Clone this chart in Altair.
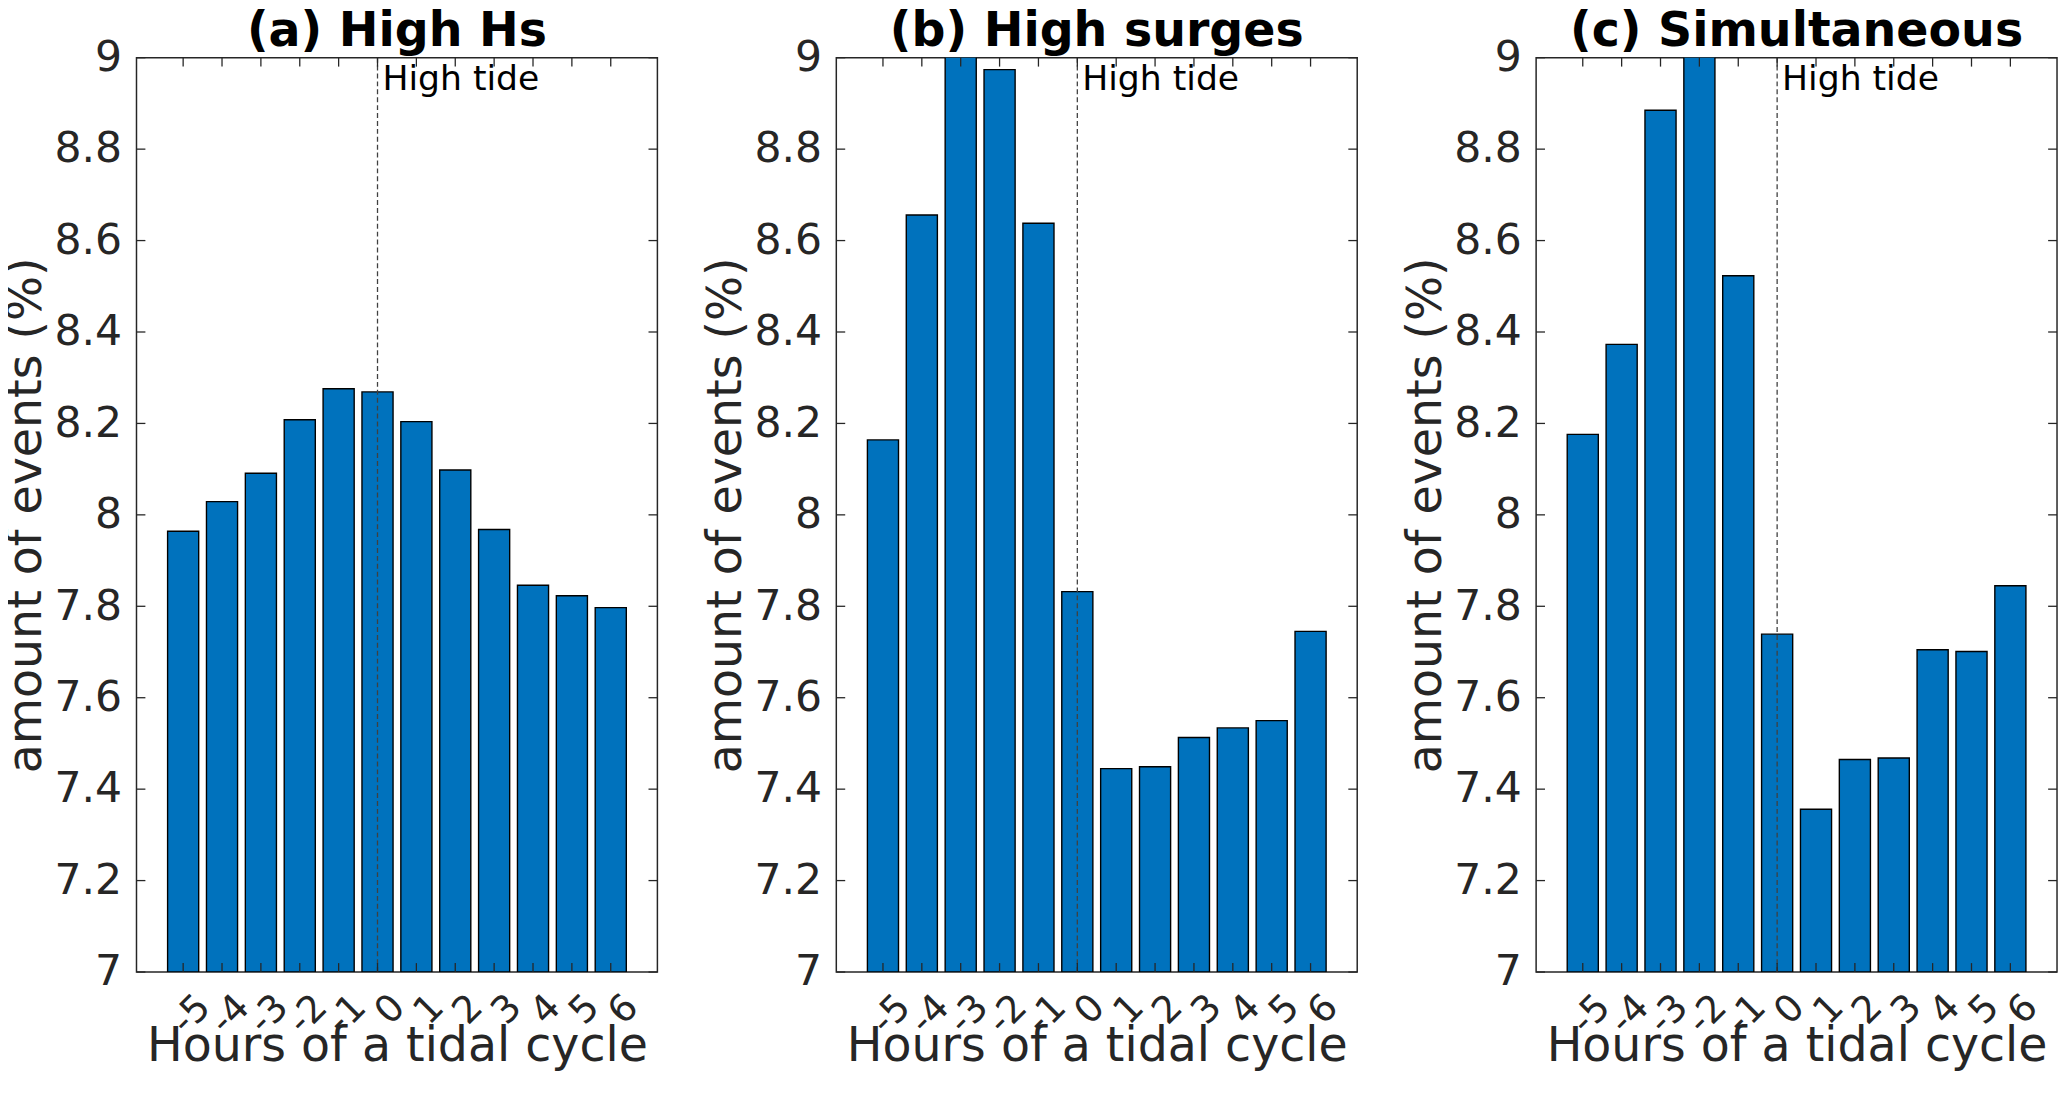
import altair as alt
import pandas as pd

# ---------------- data ----------------
HOURS = [-5, -4, -3, -2, -1, 0, 1, 2, 3, 4, 5, 6]
HIGH_HS = [7.964, 8.029, 8.091, 8.208, 8.276, 8.269, 8.204, 8.098, 7.968, 7.846, 7.823, 7.797]
HIGH_SURGES = [8.164, 8.656, 9.05, 8.974, 8.638, 7.832, 7.445, 7.449, 7.513, 7.534, 7.550, 7.745]
SIMULTANEOUS = [8.176, 8.373, 8.885, 9.05, 8.523, 7.739, 7.356, 7.465, 7.468, 7.705, 7.701, 7.845]
TITLES = ["(a) High Hs", "(b) High surges", "(c) Simultaneous"]
Y_TICKS = [7, 7.2, 7.4, 7.6, 7.8, 8, 8.2, 8.4, 8.6, 8.8, 9]
HIGH_TIDE = [0]
HIGH_TIDE_LABEL = ["High tide"]
X_TITLE = "Hours of a tidal cycle"
Y_TITLE = "amount of events (%)"

# ---------------- style ----------------
W, H = 527, 925
FONT = "DejaVu Sans"
AX = "#262626"
BAR = "#0072BD"
TICK_LEN = 9
BAR_HALF = 0.4

xscale = alt.Scale(domain=[-6.2, 7.2], nice=False, zero=False)
yscale = alt.Scale(domain=[7, 9], nice=False, zero=False)

X_AXIS = alt.Axis(
    values=HOURS,
    labelExpr="'' + datum.value",
    labelAngle=315,
    labelAlign="right",
    labelBaseline="top",
    labelOffset=8,
    labelPadding=16,
    labelOverlap=False,
    labelFlush=False,
    labelBound=False,
    labelFontSize=38,
    labelFont=FONT,
    labelColor=AX,
    ticks=False,
    domain=False,
    grid=False,
    title=X_TITLE,
    titleFont=FONT,
    titleFontSize=48,
    titleFontWeight="normal",
    titleColor=AX,
    titleY=90,
    titleBaseline="alphabetic",
)

Y_AXIS = alt.Axis(
    values=Y_TICKS,
    format="~g",
    labelFontSize=43,
    labelFont=FONT,
    labelColor=AX,
    labelPadding=15,
    ticks=False,
    domain=False,
    grid=False,
    title=Y_TITLE,
    titleFont=FONT,
    titleFontSize=48,
    titleFontWeight="normal",
    titleColor=AX,
    titleAngle=270,
    titleX=-97,
    titleY=H / 2,
    titleAlign="center",
    titleBaseline="alphabetic",
)


def panel(values, title):
    df = pd.DataFrame({"hour": HOURS, "pct": values})
    bars = (
        alt.Chart(df)
        .transform_calculate(x0=f"datum.hour - {BAR_HALF}", x1=f"datum.hour + {BAR_HALF}", base="7")
        .mark_rect(color=BAR, stroke="black", strokeWidth=1.4, clip=True)
        .encode(
            x=alt.X("x0:Q", scale=xscale, axis=X_AXIS),
            x2="x1:Q",
            y=alt.Y("pct:Q", scale=yscale, axis=Y_AXIS),
            y2="base:Q",
        )
    )

    tide_df = pd.DataFrame({"hour": HIGH_TIDE, "label": HIGH_TIDE_LABEL})
    tide = (
        alt.Chart(tide_df)
        .mark_rule(color="#404040", strokeDash=[5, 3], strokeWidth=1.3)
        .encode(x=alt.X("hour:Q", scale=xscale, axis=X_AXIS))
    )
    tide_text = (
        alt.Chart(tide_df)
        .mark_text(align="left", baseline="alphabetic", dx=5, fontSize=35, font=FONT, color="black")
        .encode(x=alt.X("hour:Q", scale=xscale, axis=X_AXIS), y=alt.value(33), text="label:N")
    )

    ydf = pd.DataFrame({"v": Y_TICKS})
    xdf = pd.DataFrame({"h": HOURS})
    rule = dict(color=AX, strokeWidth=1.3)
    yl = alt.Chart(ydf).mark_rule(**rule).encode(
        y=alt.Y("v:Q", scale=yscale, axis=Y_AXIS), x=alt.value(0), x2=alt.value(TICK_LEN))
    yr = alt.Chart(ydf).mark_rule(**rule).encode(
        y=alt.Y("v:Q", scale=yscale, axis=Y_AXIS), x=alt.value(W - TICK_LEN), x2=alt.value(W))
    xt = alt.Chart(xdf).mark_rule(**rule).encode(
        x=alt.X("h:Q", scale=xscale, axis=X_AXIS), y=alt.value(0), y2=alt.value(TICK_LEN))
    xb = alt.Chart(xdf).mark_rule(**rule).encode(
        x=alt.X("h:Q", scale=xscale, axis=X_AXIS), y=alt.value(H - TICK_LEN), y2=alt.value(H))

    return alt.layer(bars, tide, tide_text, yl, yr, xt, xb).properties(
        width=W,
        height=H,
        title=alt.TitleParams(
            text=title,
            font=FONT,
            fontSize=48,
            fontWeight="bold",
            color="black",
            anchor="middle",
            frame="group",
            offset=-19,
        ),
    )


chart = (
    alt.hconcat(
        panel(HIGH_HS, TITLES[0]),
        panel(HIGH_SURGES, TITLES[1]),
        panel(SIMULTANEOUS, TITLES[2]),
        spacing=181,
        bounds="flush",
    )
    .properties(padding={"left": -6, "top": -7, "right": 0, "bottom": 5}, background="white")
    .configure_view(stroke=AX, strokeWidth=1.5)
)

chart.save("out.html", embed_options={"renderer": "svg", "actions": False})
